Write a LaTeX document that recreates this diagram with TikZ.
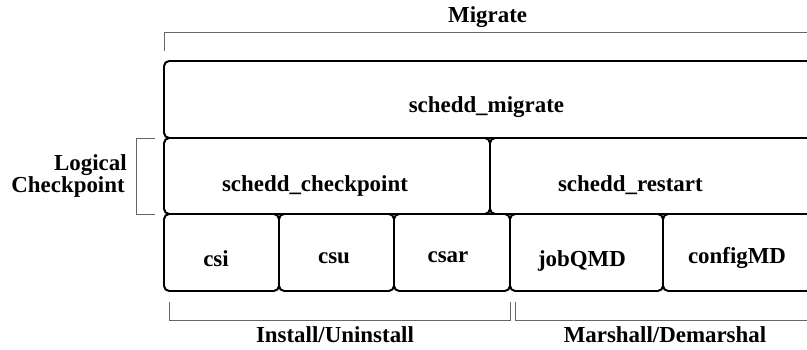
\documentclass[tikz,border=0pt]{standalone}
\usepackage{fontspec}
\setmainfont{Liberation Serif}
\usepackage{tikz}
\usetikzlibrary{calc,positioning}

\begin{document}
\begin{tikzpicture}[
    box/.style={draw=black,line width=1.4pt,rounded corners=0.13cm},
    brace/.style={draw=black!60,line width=0.7pt},
    lbl/.style={font=\bfseries\fontsize{16.3}{16}\selectfont,inner sep=0pt,anchor=base}
  ]
  % Frame
  \useasboundingbox (0,0) rectangle (20.175,8.75);
  % Parameters
  \def\lx{4.1}
  \def\rx{21}
  \def\ya{7.225}
  \def\yb{5.3}
  \def\yc{3.4}
  \def\yd{1.475}
  % Layer boxes
  \draw[box] (\lx,\ya) rectangle (\rx,\yb);
  \draw[box] (\lx,\yb) rectangle (12.25,\yc);
  \draw[box] (12.25,\yb) rectangle (\rx,\yc);
  \draw[box] (\lx,\yc) rectangle (6.975,\yd);
  \draw[box] (6.975,\yc) rectangle (9.85,\yd);
  \draw[box] (9.85,\yc) rectangle (12.75,\yd);
  \draw[box] (12.75,\yc) rectangle (16.575,\yd);
  \draw[box] (16.575,\yc) rectangle (\rx,\yd);
  % Brackets
  \draw[brace] (\lx,7.475) -- (\lx,7.95) -- (\rx,7.95);
  \draw[brace] (3.875,\yb) -- (3.4,\yb) -- (3.4,\yc) -- (3.875,\yc);
  \draw[brace] (4.225,1.2) -- (4.225,0.75) -- (12.75,0.75) -- (12.75,1.2);
  \draw[brace] (12.875,1.2) -- (12.875,0.75) -- (\rx,0.75);
  % Labels
  \node[lbl] (migrate) at (12.19,8.175) {Migrate};
  \node[lbl] (smigrate) at (12.16,5.925) {schedd\_migrate};
  \node[lbl] (scheckpoint) at (7.875,3.95) {schedd\_checkpoint};
  \node[lbl] (srestart) at (15.76,3.95) {schedd\_restart};
  \node[lbl,anchor=base east] (logical) at (3.175,4.475) {Logical};
  \node[lbl,anchor=base east] (checkpoint) at (3.125,3.925) {Checkpoint};
  \node[lbl] (csi) at (5.4,2.083) {csi};
  \node[lbl] (csu) at (8.35,2.167) {csu};
  \node[lbl] (csar) at (11.2,2.175) {csar};
  \node[lbl] (jobqmd) at (14.55,2.083) {jobQMD};
  \node[lbl] (configmd) at (18.425,2.167) {configMD};
  \node[lbl] (install) at (8.375,0.175) {Install/Uninstall};
  \node[lbl] (marshall) at (16.625,0.175) {Marshall/Demarshal};
\end{tikzpicture}
\end{document}
